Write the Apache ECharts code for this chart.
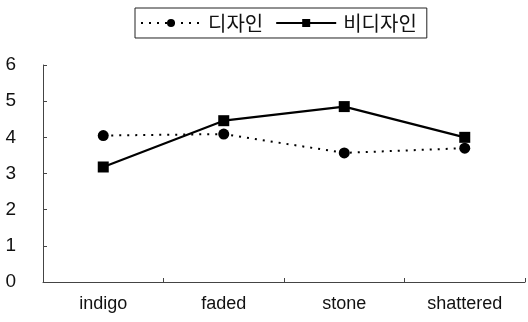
<!DOCTYPE html>
<html><head><meta charset="utf-8">
<script src="https://cdn.jsdelivr.net/npm/echarts@6/dist/echarts.min.js"></script>
<style>html,body{margin:0;padding:0;background:#fff}#c{width:528px;height:322px}</style>
</head><body><div id="c"></div>
<script>
const categories = ['indigo', 'faded', 'stone', 'shattered'];
const designValues = [4.05, 4.09, 3.57, 3.70];
const nonDesignValues = [3.18, 4.46, 4.85, 4.00];
const yTicks = [0, 1, 2, 3, 4, 5, 6];

const chart = echarts.init(document.getElementById('c'), null, {renderer: 'canvas'});
chart.setOption({
  animation: false,
  backgroundColor: '#fff',
  textStyle: {fontFamily: 'Liberation Sans, Arial, sans-serif'},
  legend: {
    top: 8, left: 135,
    itemWidth: 60, itemHeight: 10, itemGap: 12,
    borderColor: '#222', borderWidth: 1, padding: [5, 10, 5, 5],
    textStyle: {fontSize: 20, color: '#111', fontFamily: 'Noto Sans CJK KR, sans-serif', padding: [0, 0, 0, 2]},
    data: ['디자인', '비디자인']
  },
  grid: {left: 43, right: 3, top: 65, bottom: 40},
  xAxis: {
    type: 'category', data: categories, boundaryGap: true,
    axisLine: {lineStyle: {color: '#444', width: 1}},
    axisTick: {show: true, inside: true, length: 4, lineStyle: {color: '#444'}},
    axisLabel: {fontSize: 18, color: '#111', margin: 13}
  },
  yAxis: {
    type: 'value', min: 0, max: 6, interval: 1,
    axisLine: {show: true, lineStyle: {color: '#444', width: 1}},
    axisTick: {show: true, inside: true, length: 4, lineStyle: {color: '#444'}},
    splitLine: {show: false},
    axisLabel: {fontSize: 19, color: '#111', margin: 27, formatter: v => yTicks.includes(v) ? String(v) : ''}
  },
  series: [
    {
      name: '디자인', type: 'line', data: designValues,
      symbol: 'circle', symbolSize: 11,
      itemStyle: {color: '#000'},
      lineStyle: {color: '#000', width: 2, type: [2, 6]}
    },
    {
      name: '비디자인', type: 'line', data: nonDesignValues,
      symbol: 'rect', symbolSize: 11,
      itemStyle: {color: '#000'},
      lineStyle: {color: '#000', width: 2.2, type: 'solid'}
    }
  ]
});
</script></body></html>
